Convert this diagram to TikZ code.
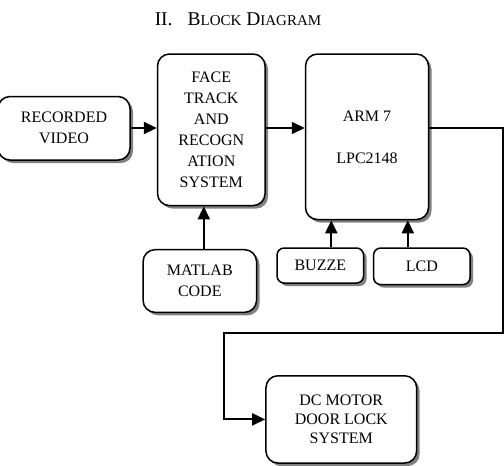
\documentclass[tikz,border=0pt]{standalone}
\usepackage{fontspec}
\setmainfont{Liberation Serif}
\usetikzlibrary{arrows.meta,shadows}

\begin{document}
\begin{tikzpicture}[x=1pt, y=-1pt, font=\fontsize{16}{21}\selectfont]
\tikzset{blk/.style={draw, line width=1.5pt, fill=white, rounded corners=12pt, align=center,
    inner sep=0pt, drop shadow={shadow xshift=3pt, shadow yshift=-3pt, fill=black!55, opacity=0.9}},
  smallblk/.style={blk, rounded corners=7pt},
  arr/.style={line width=2pt, -{Triangle[length=13pt, width=12pt]}}}

\useasboundingbox (0,0) rectangle (504,466);

% title
\node (title) at (238,19) {\fontsize{19.5}{23}\selectfont II.\hspace{15pt}B{\fontsize{15}{18}\selectfont LOCK} D{\fontsize{15}{18}\selectfont IAGRAM}};

% blocks
\node[blk, minimum width=132pt, minimum height=63.5pt] (video) at (64,128.3)
    {RECORDED\\VIDEO};
\node[blk, minimum width=107.5pt, minimum height=151.6pt] (face) at (211.3,129.8)
    {FACE\\TRACK\\AND\\RECOGN\\ATION\\SYSTEM};
\node[blk, minimum width=123pt, minimum height=165.5pt] (arm) at (367,136.8)
    {ARM 7\\[21pt]LPC2148};
\node[blk, minimum width=113.5pt, minimum height=62.7pt] (matlab) at (199.8,281)
    {MATLAB\\CODE};
\node[smallblk, minimum width=86.5pt, minimum height=35pt] (buzzer) at (320.3,265.5)
    {BUZZE};
\node[smallblk, minimum width=96.4pt, minimum height=36.5pt] (lcd) at (421.8,266.3)
    {LCD};
\node[blk, minimum width=150.7pt, minimum height=87.3pt, font=\fontsize{16}{19}\selectfont] (motor) at (341.3,419.4)
    {DC MOTOR\\DOOR LOCK\\SYSTEM};

% connectors
\coordinate (turn1) at (502.5,128);
\coordinate (turn2) at (223.6,332.6);
\coordinate (inrow) at (0,128);

\draw[arr] (video.east |- inrow) -- (face.west |- inrow);
\draw[arr] (face.east |- inrow) -- (arm.west |- inrow);
\draw[arr] (arm.east |- inrow) -- (turn1) |- (turn2) |- (motor.west);
\draw[arr] ([xshift=4pt]matlab.north) -- ([xshift=4pt]matlab.north |- face.south);
\draw[arr] ([xshift=11pt]buzzer.north) -- ([xshift=11pt]buzzer.north |- arm.south);
\draw[arr] ([xshift=-14pt]lcd.north) -- ([xshift=-14pt]lcd.north |- arm.south);

\end{tikzpicture}
\end{document}
